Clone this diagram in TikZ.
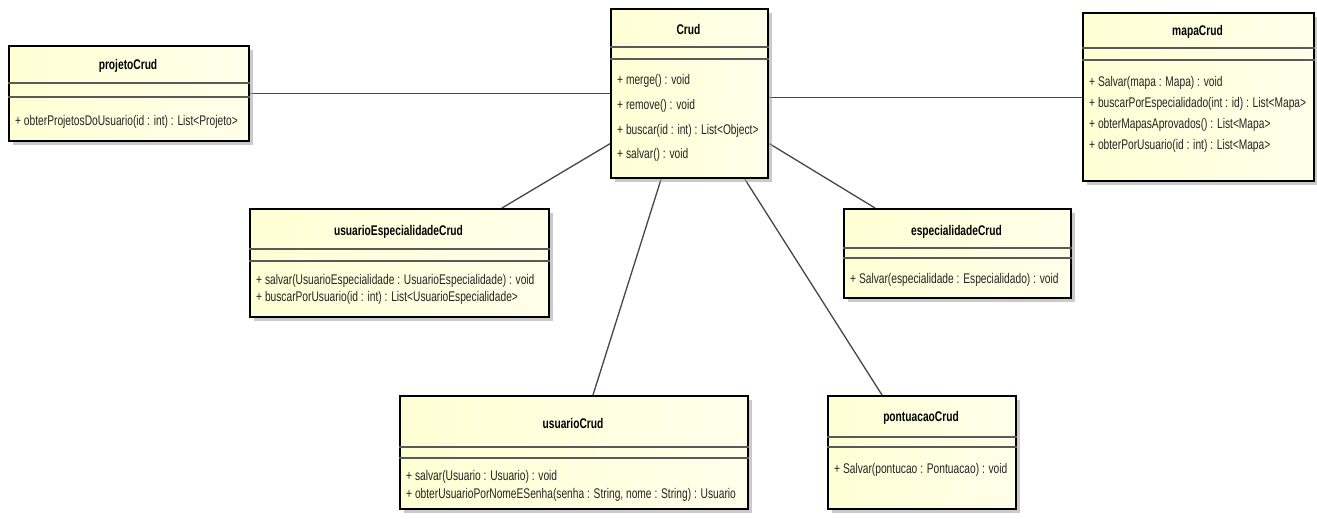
\documentclass[tikz,border=0pt]{standalone}
\usepackage{fontspec}
\newfontfamily\umlfont[FakeStretch=0.73]{Liberation Sans}
\usetikzlibrary{shadows,calc}
\pgfdeclarelayer{bg}
\pgfsetlayers{bg,main}
\definecolor{boxleft}{RGB}{255,255,212}
\definecolor{boxright}{RGB}{255,255,234}
\definecolor{linkgray}{RGB}{70,70,70}
\definecolor{sepgray}{RGB}{90,90,90}
\definecolor{txtgray}{RGB}{35,35,35}
\tikzset{
  classbox/.style={rectangle, draw=black, line width=2.4pt, inner sep=0pt,
    anchor=north west, left color=boxleft, right color=boxright,
    drop shadow={shadow xshift=4pt, shadow yshift=-4pt, fill=black!35, opacity=0.6}},
  classname/.style={font=\umlfont\fontsize{14}{16}\selectfont\bfseries, inner sep=0pt, anchor=center},
  member/.style={font=\umlfont\fontsize{14}{16}\selectfont, text=txtgray, inner sep=0pt, anchor=west},
  compline/.style={draw=sepgray, line width=1.2pt},
  assoc/.style={draw=linkgray, line width=1.3pt}
}
\begin{document}
\begin{tikzpicture}[x=1pt,y=-1pt]
\useasboundingbox (0,0) rectangle (1317,519);

% projetoCrud
\node[classbox, minimum width=240pt, minimum height=95pt] (projeto) at (8,45) {};
\node[classname] (projetoT) at (128,66) {projetoCrud};
\draw[compline] (projeto.west |- 0,83) -- (projeto.east |- 0,83);
\draw[compline] (projeto.west |- 0,97) -- (projeto.east |- 0,97);
\node[member] (projetoM1) at (15,122) {+ obterProjetosDoUsuario(id : int) : List<Projeto>};

% Crud
\node[classbox, minimum width=157pt, minimum height=169pt] (crud) at (610,8) {};
\node[classname] (crudT) at (688.5,29) {Crud};
\draw[compline] (crud.west |- 0,47) -- (crud.east |- 0,47);
\draw[compline] (crud.west |- 0,59) -- (crud.east |- 0,59);
\node[member] (crudM1) at (617,81) {+ merge() : void};
\node[member] (crudM2) at (617,106) {+ remove() : void};
\node[member] (crudM3) at (617,131) {+ buscar(id : int) : List<Object>};
\node[member] (crudM4) at (617,155) {+ salvar() : void};

% mapaCrud
\node[classbox, minimum width=231pt, minimum height=168pt] (mapa) at (1082,12) {};
\node[classname] (mapaT) at (1197.5,32) {mapaCrud};
\draw[compline] (mapa.west |- 0,48) -- (mapa.east |- 0,48);
\draw[compline] (mapa.west |- 0,60) -- (mapa.east |- 0,60);
\node[member] (mapaM1) at (1089,83) {+ Salvar(mapa : Mapa) : void};
\node[member] (mapaM2) at (1089,104) {+ buscarPorEspecialidado(int : id) : List<Mapa>};
\node[member] (mapaM3) at (1089,125) {+ obterMapasAprovados() : List<Mapa>};
\node[member] (mapaM4) at (1089,146) {+ obterPorUsuario(id : int) : List<Mapa>};

% usuarioEspecialidadeCrud
\node[classbox, minimum width=299pt, minimum height=108pt] (ue) at (249,208) {};
\node[classname] (ueT) at (398.5,232) {usuarioEspecialidadeCrud};
\draw[compline] (ue.west |- 0,249) -- (ue.east |- 0,249);
\draw[compline] (ue.west |- 0,261) -- (ue.east |- 0,261);
\node[member] (ueM1) at (256,281) {+ salvar(UsuarioEspecialidade : UsuarioEspecialidade) : void};
\node[member] (ueM2) at (256,298) {+ buscarPorUsuario(id : int) : List<UsuarioEspecialidade>};

% especialidadeCrud
\node[classbox, minimum width=227pt, minimum height=89pt] (esp) at (843,208) {};
\node[classname] (espT) at (956.5,232) {especialidadeCrud};
\draw[compline] (esp.west |- 0,248) -- (esp.east |- 0,248);
\draw[compline] (esp.west |- 0,258) -- (esp.east |- 0,258);
\node[member] (espM1) at (850,280) {+ Salvar(especialidade : Especialidado) : void};

% usuarioCrud
\node[classbox, minimum width=348pt, minimum height=113pt] (usuario) at (399,395) {};
\node[classname] (usuarioT) at (573,423) {usuarioCrud};
\draw[compline] (usuario.west |- 0,447) -- (usuario.east |- 0,447);
\draw[compline] (usuario.west |- 0,458) -- (usuario.east |- 0,458);
\node[member] (usuarioM1) at (406,477) {+ salvar(Usuario : Usuario) : void};
\node[member] (usuarioM2) at (406,495) {+ obterUsuarioPorNomeESenha(senha : String, nome : String) : Usuario};

% pontuacaoCrud
\node[classbox, minimum width=188pt, minimum height=113pt] (pont) at (827,395) {};
\node[classname] (pontT) at (921,418) {pontuacaoCrud};
\draw[compline] (pont.west |- 0,437) -- (pont.east |- 0,437);
\draw[compline] (pont.west |- 0,447) -- (pont.east |- 0,447);
\node[member] (pontM1) at (834,470) {+ Salvar(pontucao : Pontuacao) : void};

% associations, kept beneath the classes
\begin{pgfonlayer}{bg}
\draw[assoc] (projeto.east) -- (projeto.east -| crud.west);
\draw[assoc] (mapa.west) -- (mapa.west -| crud.east);
\draw[assoc] ([yshift=-50pt]crud.west) -- ([xshift=253pt]ue.north west);
\draw[assoc] ([yshift=-50pt]crud.east) -- ([xshift=32pt]esp.north west);
\draw[assoc] ([xshift=51pt]crud.south west) -- ([xshift=194pt]usuario.north west);
\draw[assoc] ([xshift=135pt]crud.south west) -- ([xshift=55pt]pont.north west);
\end{pgfonlayer}
\end{tikzpicture}
\end{document}
